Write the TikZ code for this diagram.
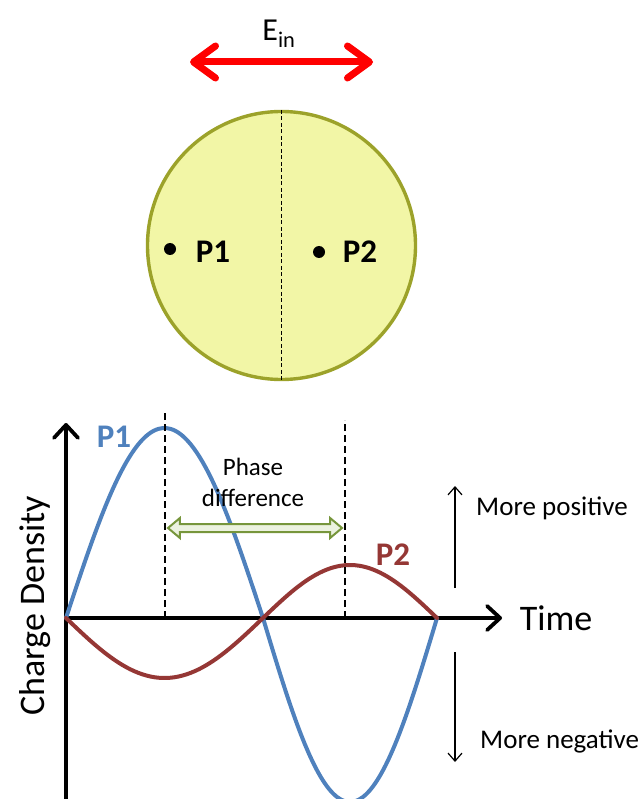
\documentclass[tikz,border=0pt]{standalone}
\usepackage{fontspec}
\setmainfont{Carlito}
\usetikzlibrary{arrows.meta,positioning,shapes.arrows}
\definecolor{fieldred}{RGB}{255,0,0}
\definecolor{diskfill}{RGB}{242,246,166}
\definecolor{diskedge}{RGB}{156,162,42}
\definecolor{pone}{RGB}{79,129,189}
\definecolor{ptwo}{RGB}{149,55,53}
\definecolor{phaseedge}{RGB}{119,150,60}
\definecolor{phasefill}{RGB}{236,242,224}
\tikzset{
  fieldarrow/.style={draw=fieldred, line width=7pt, >={Straight Barb[length=22pt, width=32pt, round]}, <->},
  disk/.style={circle, draw=diskedge, fill=diskfill, line width=3.4pt, minimum size=268pt, inner sep=0pt},
  splitline/.style={line width=1.2pt, dash pattern=on 4pt off 2.5pt},
  probe/.style={circle, fill=black, inner sep=0pt, minimum size=12pt},
  plabel/.style={font=\fontsize{33}{36}\selectfont\bfseries, inner sep=0pt},
  axisline/.style={line width=3.8pt, -{Straight Barb[length=13pt, width=24pt, round]}},
  axislabel/.style={font=\fontsize{36}{40}\selectfont, inner sep=0pt},
  wave/.style={line width=4pt, line cap=round, smooth},
  peakline/.style={line width=1.6pt, dash pattern=on 7pt off 4pt},
  phasearrow/.style={double arrow, draw=phaseedge, fill=phasefill, line width=2pt, inner xsep=0pt, inner ysep=3pt, double arrow head extend=6pt, double arrow tip angle=80},
  phaselabel/.style={font=\fontsize{25}{31}\selectfont, align=center, inner sep=0pt},
  hintarrow/.style={line width=1.2pt, -{Straight Barb[length=8pt, width=14pt]}},
  hintlabel/.style={font=\fontsize{27}{30}\selectfont, inner sep=0pt},
}

\begin{document}
\begin{tikzpicture}[x=1pt, y=-1pt]
  \useasboundingbox (0,0) rectangle (644,799);
  \clip (0,0) rectangle (644,799);

  % incoming field
  \coordinate (fieldL) at (190,62);
  \coordinate (fieldR) at (373,62);
  \draw[fieldarrow] (fieldL) -- (fieldR);
  \node[font=\fontsize{32}{36}\selectfont, inner sep=0pt, anchor=base] (ein) at (279,41) {E\textsubscript{in}};

  % particle
  \node[disk] (part) at (281.5,245.5) {};
  \draw[splitline] (part.north) -- (part.south);
  \node[probe] (dotA) at (170,249) {};
  \node[probe] (dotB) at (319,252) {};
  \node[plabel, anchor=base] (pA) at (213,262) {P1};
  \node[plabel, anchor=base] (pB) at (360,262) {P2};

  % axes
  \coordinate (origin) at (66,618);
  \coordinate (ytip) at (66,423);
  \coordinate (ybot) at (66,802);
  \coordinate (xtip) at (502,618);
  \draw[axisline] (ybot) -- (ytip);
  \draw[axisline] (origin) -- (xtip);
  \node[axislabel] (time) at (556,618) {Time};
  \node[axislabel, rotate=90] (dens) at (35,606) {Charge Density};

  % charge waves
  \draw[wave, pone] plot[domain=66:263, samples=50] (\x, {618-190*sin((\x-66)/197*180)})
    -- plot[domain=263:437, samples=50] (\x, {618+184*sin((\x-263)/174*180)});
  \draw[wave, ptwo] plot[domain=66:263, samples=50] (\x, {618+60*sin((\x-66)/197*180)})
    -- plot[domain=263:437, samples=50] (\x, {618-53*sin((\x-263)/174*180)});
  \node[plabel, pone] (wA) at (114,437) {P1};
  \node[plabel, ptwo] (wB) at (393,555) {P2};

  % phase difference
  \coordinate (peakA) at (165,618);
  \coordinate (peakB) at (345,618);
  \draw[peakline] (peakA) -- (165,412);
  \draw[peakline] (peakB) -- (345,420);
  \node[phasearrow, minimum height=174pt] (gap) at (255,528) {};
  \node[phaselabel] (phase) at (253,482) {Phase\\difference};

  % sign hints
  \coordinate (posA) at (455,588);
  \coordinate (posB) at (455,486);
  \coordinate (negA) at (455,652);
  \coordinate (negB) at (455,762);
  \draw[hintarrow] (posA) -- (posB);
  \draw[hintarrow] (negA) -- (negB);
  \node[hintlabel, anchor=west] (more) at (476,508) {More positive};
  \node[hintlabel, anchor=west] (less) at (480,741) {More negative};
\end{tikzpicture}
\end{document}
